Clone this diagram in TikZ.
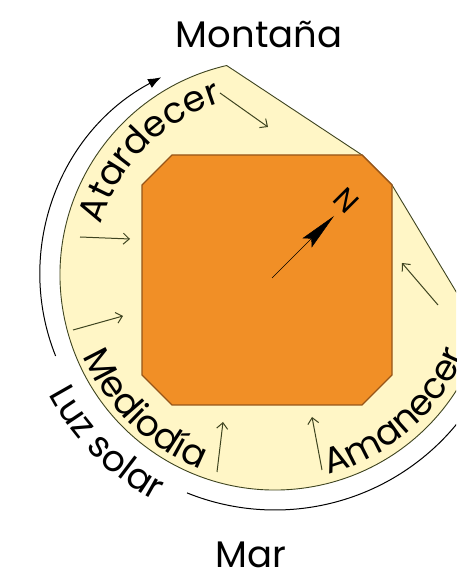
\documentclass[tikz,border=0pt]{standalone}
\usepackage{fontspec}
\setmainfont{Poppins}
\usetikzlibrary{arrows.meta,decorations.text}
\definecolor{crema}{RGB}{255,246,198}
\definecolor{naranja}{RGB}{241,143,38}
\definecolor{borde}{RGB}{150,85,25}
\definecolor{oliva}{RGB}{62,68,32}
\newcommand\rotfont{\fontsize{36}{36}\selectfont}
\begin{document}
\begin{tikzpicture}[x=1pt, y=1pt,
    rayo/.style={oliva, line width=1pt, -{Straight Barb[length=6pt,width=11pt]}},
    rotulo/.style={font=\fontsize{37}{37}\selectfont, inner sep=0pt},
    curvo/.style={decorate, decoration={text along path, text align=#1}}]
  \useasboundingbox (0,0) rectangle (456,572);
  \clip (0,0) rectangle (456,572);
  \coordinate (c) at (275,297);

  % parcela y casa
  \draw[oliva, line width=0.9pt, fill=crema] (c) ++(103:215) arc[start angle=103, end angle=344, radius=215]
    -- (392,387) -- (362,417) -- cycle;
  \draw[borde, line width=1.4pt, fill=naranja] (172,417) -- (362,417) -- (392,387) -- (392,197)
    -- (362,167) -- (172,167) -- (142,197) -- (142,387) -- cycle;

  % recorrido del sol
  \draw[line width=1pt, -{Latex[length=13pt,width=10pt]}] (c) ++(201:235 and 226)
    arc[start angle=201, end angle=119, x radius=235, y radius=226];
  \draw[line width=1pt] (c) ++(248:235) arc[start angle=248, end angle=340, radius=235];

  \path[curvo=center, decoration={text={|\rotfont|Atardecer}}] (c) ++(170:181) arc[start angle=170, end angle=101, radius=181];
  \path[curvo=center, decoration={text={|\rotfont|Mediodía}}] (c) ++(192:208) arc[start angle=192, end angle=260, radius=208];
  \path[curvo=left, decoration={text={|\rotfont|Amanecer}}] (c) ++(285:206) arc[start angle=285, end angle=400, radius=206];
  \path[curvo=center, decoration={text={|\rotfont|Luz solar}}] (c) ++(196:256) arc[start angle=196, end angle=254, radius=256];

  % rayos
  \coordinate (r1a) at (220,479); \coordinate (r1b) at (268,445);
  \coordinate (r2a) at (80,335);  \coordinate (r2b) at (130,333);
  \coordinate (r3a) at (73,242);  \coordinate (r3b) at (123,256);
  \coordinate (r4a) at (217,100); \coordinate (r4b) at (223,150);
  \coordinate (r5a) at (322,102); \coordinate (r5b) at (312,155);
  \coordinate (r6a) at (438,267); \coordinate (r6b) at (402,309);
  \draw[rayo] (r1a) -- (r1b);
  \draw[rayo] (r2a) -- (r2b);
  \draw[rayo] (r3a) -- (r3b);
  \draw[rayo] (r4a) -- (r4b);
  \draw[rayo] (r5a) -- (r5b);
  \draw[rayo] (r6a) -- (r6b);

  % norte
  \coordinate (npie) at (272,294);
  \coordinate (npunta) at (334,356);
  \draw[line width=0.5pt, -{Stealth[length=38pt,width=13pt,inset=6pt]}] (npie) -- (npunta);
  \node[rotulo, rotate=-45, font=\fontsize{30}{30}\selectfont] (norte) at (346,371) {N};

  \node[rotulo, anchor=base] (montana) at (259,524) {Montaña};
  \node[rotulo, anchor=base] (mar) at (251,5) {Mar};
\end{tikzpicture}
\end{document}
